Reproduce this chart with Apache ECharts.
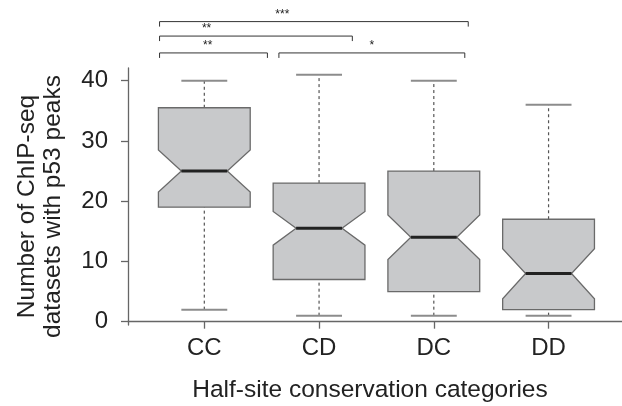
<!DOCTYPE html>
<html>
<head>
<meta charset="utf-8">
<script src="https://cdn.jsdelivr.net/npm/echarts@6/dist/echarts.min.js"></script>
<style>
html, body { margin: 0; padding: 0; background: #fff; }
#chart { width: 622px; height: 406px; }
</style>
</head>
<body>
<div id="chart"></div>
<script>
var categories = ['CC', 'CD', 'DC', 'DD'];
var whiskerLow = [2, 1, 1, 1];
var q1 = [19, 7, 5, 2];
var notchLow = [21.5, 12.7, 10.3, 3.8];
var median = [25, 15.5, 14, 8];
var notchHigh = [28.5, 18.3, 17.7, 12.1];
var q3 = [35.5, 23, 25, 17];
var whiskerHigh = [40, 41, 40, 36];
var yTicks = [0, 10, 20, 30, 40];

// significance brackets (x in category units, y in axis units)
var bracketFrom = [0.61, 0.61, 0.61, 1.65];
var bracketTo = [3.30, 2.29, 1.55, 3.27];
var bracketLevel = [49.8, 47.4, 44.6, 44.6];
var bracketLabelX = [1.68, 1.02, 1.03, 2.46];
var bracketLabel = ['***', '**', '**', '*'];

var boxData = [];
for (var i = 0; i < categories.length; i++) {
    boxData.push([i + 1, whiskerLow[i], q1[i], notchLow[i], median[i], notchHigh[i], q3[i], whiskerHigh[i]]);
}
var bracketData = [];
for (var j = 0; j < bracketLabel.length; j++) {
    bracketData.push([bracketFrom[j], bracketTo[j], bracketLevel[j], bracketLabelX[j], bracketLabel[j]]);
}

function renderBox(params, api) {
    var x = api.value(0);
    var w = 0.4, n = 0.2;
    function p(dx, v) { return api.coord([x + dx, v]); }
    var wl = api.value(1), lo = api.value(2), nl = api.value(3), md = api.value(4),
        nh = api.value(5), hi = api.value(6), wh = api.value(7);
    var dash = { stroke: '#555', lineWidth: 1.2, lineDash: [3, 3] };
    var cap = { stroke: '#8c8c8c', lineWidth: 2 };
    function seg(a, b) { return { x1: a[0], y1: a[1], x2: b[0], y2: b[1] }; }
    return {
        type: 'group',
        children: [
            { type: 'line', shape: seg(p(0, hi), p(0, wh)), style: dash },
            { type: 'line', shape: seg(p(0, wl), p(0, lo)), style: dash },
            { type: 'line', shape: seg(p(-n, wh), p(n, wh)), style: cap },
            { type: 'line', shape: seg(p(-n, wl), p(n, wl)), style: cap },
            {
                type: 'polygon',
                shape: { points: [p(-w, lo), p(-w, nl), p(-n, md), p(-w, nh), p(-w, hi),
                                  p(w, hi), p(w, nh), p(n, md), p(w, nl), p(w, lo)] },
                style: { fill: '#c8c9cb', stroke: '#6a6a6a', lineWidth: 1.3 }
            },
            { type: 'line', shape: seg(p(-n, md), p(n, md)), style: { stroke: '#222', lineWidth: 3 } }
        ]
    };
}

function renderBracket(params, api) {
    var a = api.coord([api.value(0), api.value(2)]);
    var b = api.coord([api.value(1), api.value(2)]);
    var t = api.coord([api.value(3), api.value(2)]);
    var st = { stroke: '#333', lineWidth: 1, fill: null };
    return {
        type: 'group',
        children: [
            {
                type: 'polyline',
                shape: { points: [[a[0], a[1] + 5], [a[0], a[1]], [b[0], b[1]], [b[0], b[1] + 5]] },
                style: st
            },
            {
                type: 'text',
                style: {
                    x: t[0], y: t[1] - 1, text: api.value(4),
                    textAlign: 'center', textVerticalAlign: 'bottom',
                    font: '12px Liberation Sans', fill: '#222'
                }
            }
        ]
    };
}

var myChart = echarts.init(document.getElementById('chart'));
var option = {
    animation: false,
    grid: { left: 128, right: 0, top: 68, bottom: 81, outerBoundsMode: 'none' },
    xAxis: {
        type: 'value',
        min: 0.335,
        max: 4.64,
        name: 'Half-site conservation categories',
        nameLocation: 'middle',
        nameGap: 53,
        nameTextStyle: { fontFamily: 'Liberation Sans', fontSize: 24.5, color: '#222', padding: [0, 10, 0, 0] },
        splitLine: { show: false },
        axisLine: { lineStyle: { color: '#666', width: 1.3 } },
        axisTick: { customValues: [1, 2, 3, 4], length: 7, lineStyle: { color: '#666', width: 1.3 } },
        axisLabel: {
            customValues: [1, 2, 3, 4],
            formatter: function (v) { return categories[Math.round(v) - 1]; },
            fontFamily: 'Liberation Sans', fontSize: 24, color: '#222', margin: 11
        }
    },
    yAxis: {
        type: 'value',
        min: -0.55,
        max: 42.1,
        name: 'Number of ChIP-seq\ndatasets with p53 peaks',
        nameLocation: 'middle',
        nameRotate: 90,
        nameGap: 62,
        nameTextStyle: { fontFamily: 'Liberation Sans', fontSize: 24.5, color: '#222', lineHeight: 26, padding: [0, 20, 0, 0] },
        splitLine: { show: false },
        axisLine: { show: true, lineStyle: { color: '#666', width: 1.3 } },
        axisTick: { show: true, customValues: yTicks, length: 7, lineStyle: { color: '#666', width: 1.3 } },
        axisLabel: {
            customValues: yTicks,
            fontFamily: 'Liberation Sans', fontSize: 24, color: '#222', margin: 20
        }
    },
    series: [
        {
            type: 'custom',
            renderItem: renderBox,
            data: boxData,
            encode: { x: 0, y: [1, 2, 3, 4, 5, 6, 7] },
            clip: false,
            silent: true
        },
        {
            type: 'custom',
            renderItem: renderBracket,
            data: bracketData,
            encode: { x: [0, 1], y: 2 },
            clip: false,
            silent: true
        }
    ]
};
myChart.setOption(option);
</script>
</body>
</html>
